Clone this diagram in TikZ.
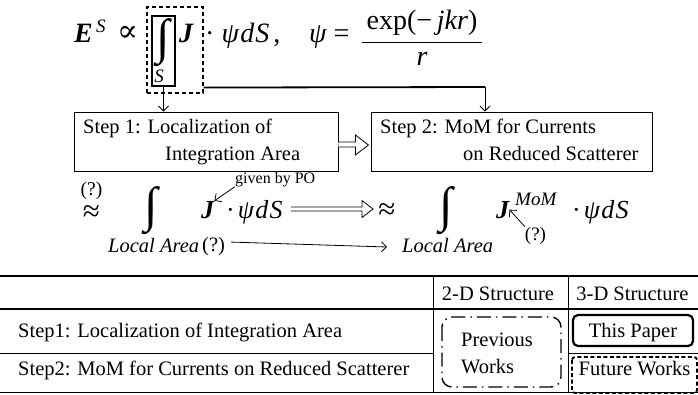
\documentclass[tikz,border=0pt]{standalone}
\usepackage{fontspec}
\setmainfont{Liberation Serif}
\newfontfamily\symfont{DejaVu Serif}
\usetikzlibrary{arrows.meta,calc}

\newcommand{\bfit}[1]{{\bfseries\itshape #1}}

\tikzset{
  mth/.style={inner sep=0pt, font=\fontsize{26}{30}\selectfont},
  mthbig/.style={inner sep=0pt, font=\fontsize{28}{32}\selectfont},
  rel/.style={inner sep=0pt, font=\fontsize{31}{36}\selectfont},
  intsign/.style={inner sep=0pt, font=\fontsize{49}{54}\selectfont},
  txt/.style={inner sep=0pt, font=\fontsize{20.5}{24}\selectfont},
  supscr/.style={inner sep=0pt, font=\fontsize{19}{22}\selectfont},
  smalltxt/.style={inner sep=0pt, font=\fontsize{16}{19}\selectfont},
  stepbox/.style={draw, line width=0.9pt, inner sep=0pt},
  barb/.style={-{Straight Barb[length=5pt,width=10pt]}, line width=0.8pt},
  hollow/.style={line width=0.8pt, fill=white},
  rule/.style={line width=2.4pt},
  thinrule/.style={line width=1pt},
}

\begin{document}
\begin{tikzpicture}[x=1pt,y=-1pt]
\useasboundingbox (0,0) rectangle (698,394);

% ---------- scattered field integral ----------
\node[mthbig, anchor=base west] (e1) at (74,42) {\bfit{E}};
\node[supscr, anchor=base west] (e1s) at (96,32) {\itshape S};
\node[rel] (prop) at (127.5,34) {\symfont ∝};
\node[draw, line width=1.1pt, dash pattern=on 4pt off 3pt,
      minimum width=56pt, minimum height=86pt, inner sep=0pt] (db) at (175,50) {};
\node[draw, line width=1.1pt, minimum width=23pt, minimum height=70pt, inner sep=0pt] (ib) at (163.5,51) {};
\node[intsign] (int1) at (163.5,42.5) {∫};
\node[supscr, anchor=base] (sub1) at (159,82) {\itshape S};
\node[mthbig, anchor=base west] (j1) at (179,42) {\bfit{J}};
\node[mthbig, anchor=base west] (rest1) at (205,42)
  {·\hspace{7pt}\itshape ψ\hspace{1.5pt}d\hspace{1pt}S\hspace{4pt}\upshape ,};
\node[mthbig, anchor=base west] (psi) at (309,42) {\itshape ψ\upshape\ =};
\node[mthbig, anchor=base] (num) at (422,29) {exp(−\,\itshape jkr\upshape )};
\node[mthbig, anchor=base] (den) at (422,65) {\itshape r};
\draw[line width=1pt] (362,42) -- (482,42);

% ---------- two steps ----------
\node[stepbox, minimum width=264pt, minimum height=59pt] (s1) at (206,141.5) {};
\node[txt, anchor=base west] (s1a) at (83,133) {Step 1: Localization of};
\node[txt, anchor=base west] (s1b) at (165,160) {Integration Area};
\node[stepbox, minimum width=281pt, minimum height=59pt] (s2) at (511.5,141.5) {};
\node[txt, anchor=base west] (s2a) at (380,133) {Step 2: MoM for Currents};
\node[txt, anchor=base west] (s2b) at (463,160) {on Reduced Scatterer};

\draw[barb] (ib.south) -- (ib.south |- s1.north);
\coordinate (bend) at (485,87);
\draw[line width=1.8pt] ([yshift=6pt]db.south east) -- (bend);
\draw[barb] (bend) -- (bend |- s2.north);

% hollow arrow from step 1 to step 2
\draw[hollow] ($(s1.east)+(0,0.5)$) -- ++(17,0) -- ++(0,-7) -- ($(s1.east)+(30,3.5)$)
  -- ($(s1.east)+(17,13.5)$) -- ++(0,-8) -- ++(-17,0);

% ---------- localized integrals ----------
\node[txt, anchor=base, font=\fontsize{19.5}{23}\selectfont] (q0) at (91.5,195) {(?)};
\node[rel] (ap0) at (91.5,214) {≈};
\node[intsign] (int2) at (151.5,211) {∫};
\node[txt, anchor=base west] (la1) at (108,252) {\itshape Local Area};
\node[txt, anchor=base west] (q1) at (202,251) {(?)};
\node[mth, anchor=base west] (j2) at (201,218) {\bfit{J}};
\node[mth, anchor=base west] (rest2) at (226,218) {·\hspace{3pt}\itshape ψ\hspace{1.5pt}d\hspace{1pt}S};
\node[smalltxt, anchor=base west] (po) at (235,183) {given by PO};
\draw[barb] (po.south west) -- (j2.north east);

\draw[hollow] (291,207) -- (362,207) -- (362,200.5) -- (373,209) -- (362,217.5) -- (362,211) -- (291,211);
\draw[barb] (q1.east) ++(6,-4) coordinate (la0) -- (387,247) coordinate (la2);

\node[rel] (ap1) at (387,212) {≈};
\node[intsign] (int3) at (446,211) {∫};
\node[txt, anchor=base west] (la3) at (402,252) {\itshape Local Area};
\node[mth, anchor=base west] (j3) at (496,218) {\bfit{J}};
\node[supscr, anchor=base west] (mom) at (515,205) {\itshape MoM};
\node[supscr, anchor=base] (q2) at (535.5,240) {(?)};
\draw[barb] (q2.north west) -- (j3.east);
\node[mth, anchor=base west] (rest3) at (572,218) {·\hspace{3pt}\itshape ψ\hspace{1.5pt}d\hspace{1pt}S};

% ---------- summary table ----------
\draw[rule] (0,276) -- (698,276);
\draw[rule] (0,309) -- (698,309);
\draw[thinrule] (0,353) -- (433,353);
\draw[thinrule] (568,353) -- (698,353);
\draw[thinrule] (0,392.5) -- (698,392.5);
\draw[thinrule] (433,276) -- (433,393);
\draw[thinrule] (568,276) -- (568,393);

\node[txt, anchor=base] (h2) at (498,300) {2-D Structure};
\node[txt, anchor=base] (h3) at (632.5,300) {3-D Structure};
\node[txt, anchor=base west] (r1) at (18,337) {Step1: Localization of Integration Area};
\node[txt, anchor=base west] (r2) at (18,375) {Step2: MoM for Currents on Reduced Scatterer};

\draw[line width=1.4pt, rounded corners=10pt,
      dash pattern=on 14pt off 5pt on 1.5pt off 5pt] (442,317) rectangle (561,387);
\node[txt, anchor=base west] (pw1) at (461,346) {Previous};
\node[txt, anchor=base west] (pw2) at (461,373) {Works};

\draw[line width=2.2pt, rounded corners=5pt] (573,315) rectangle (693,346);
\node[txt, anchor=base] (tp) at (633,337) {This Paper};
\draw[line width=1.8pt, rounded corners=3pt, dash pattern=on 4pt off 2.5pt] (572,357) rectangle (697,393);
\node[txt, anchor=base] (fw) at (634.5,375) {Future Works};
\end{tikzpicture}
\end{document}
